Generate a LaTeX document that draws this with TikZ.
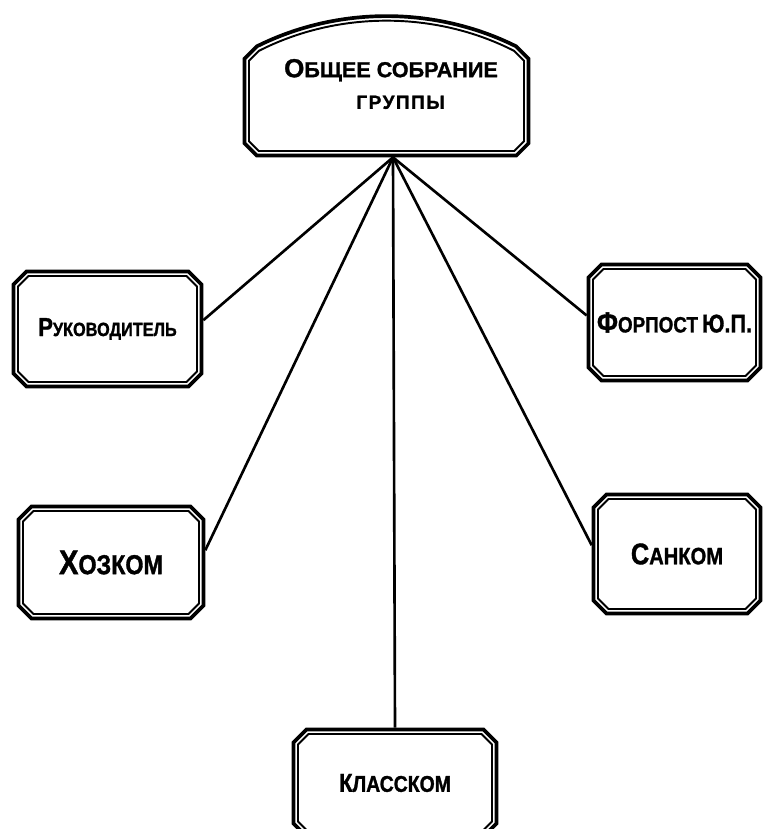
\documentclass[tikz,border=0pt]{standalone}
\usepackage{fontspec}
\setmainfont{Liberation Sans}
\newfontfamily\boxfont{Liberation Sans}[FakeStretch=0.85, FakeBold=1.2]
\newfontfamily\headfont{Liberation Sans}[FakeBold=1.2]
\newcommand\sized[2]{{\fontsize{#1}{#1}\selectfont #2}}
% octagonal rim inside a node: #1 node, #2 inset, #3 corner cut
\newcommand\chframe[3]{%
  ([shift={(#2+#3,-#2)}]#1.north west) -- ([shift={(-#2-#3,-#2)}]#1.north east)
  -- ([shift={(-#2,-#2-#3)}]#1.north east) -- ([shift={(-#2,#2+#3)}]#1.south east)
  -- ([shift={(-#2-#3,#2)}]#1.south east) -- ([shift={(#2+#3,#2)}]#1.south west)
  -- ([shift={(#2,#2+#3)}]#1.south west) -- ([shift={(#2,-#2-#3)}]#1.north west) -- cycle}
% same rim with an arched top: #4 rise of the arch
\newcommand\archframe[4]{%
  ([shift={(#2,-#2-#3)}]#1.north west) -- ([shift={(#2+#3,-#2)}]#1.north west)
  .. controls ([shift={(54pt,#4-#2)}]#1.north west) and ([shift={(-54pt,#4-#2)}]#1.north east)
  .. ([shift={(-#2-#3,-#2)}]#1.north east)
  -- ([shift={(-#2,-#2-#3)}]#1.north east) -- ([shift={(-#2,#2+#3)}]#1.south east)
  -- ([shift={(-#2-#3,#2)}]#1.south east) -- ([shift={(#2+#3,#2)}]#1.south west)
  -- ([shift={(#2,#2+#3)}]#1.south west) -- cycle}
\tikzset{
  plate/.style={rectangle, inner sep=0pt, font=\boxfont\bfseries},
  headtext/.style={inner sep=0pt, align=center, font=\headfont\bfseries},
  outerrim/.style={line width=2.1pt, line join=miter},
  innerrim/.style={line width=1.1pt, line join=miter},
  spoke/.style={line width=1.5pt}
}

\begin{document}
\begin{tikzpicture}[x=0.02cm, y=-0.02cm]
  \useasboundingbox (0,0) rectangle (764,829);
  \clip (0,0) rectangle (764,829);
  % boxes
  \node[plate, minimum width=5.74cm, minimum height=2.24cm] (sobr) at (386.5,101) {};
  \node[headtext] (sobrtext) at (391,84)
    {\sized{14.8}{О}\sized{12.3}{БЩЕЕ СОБРАНИЕ}\\[6pt]\hspace*{11pt}\sized{10.8}{\addfontfeature{LetterSpace=8}ГРУППЫ}};
  \node[plate, minimum width=3.82cm, minimum height=2.36cm] (ruk) at (107.5,329)
    {\sized{14.8}{Р}\sized{10.9}{УКОВОДИТЕЛЬ}};
  \node[plate, minimum width=3.5cm, minimum height=2.38cm] (forp) at (674.5,322.5)
    {\sized{16.5}{Ф}\sized{12.6}{ОРПОСТ} \sized{14.5}{Ю.П.}};
  \node[plate, minimum width=3.76cm, minimum height=2.3cm] (hoz) at (111,562.5)
    {\sized{19.5}{Х}\sized{15.6}{ОЗКОМ}};
  \node[plate, minimum width=3.4cm, minimum height=2.44cm] (san) at (677,554)
    {\sized{17}{С}\sized{13.5}{АНКОМ}};
  \node[plate, minimum width=4.12cm, minimum height=2.2cm] (klass) at (395,783)
    {\sized{14.8}{К}\sized{13}{ЛАССКОМ}};
  % rims
  \draw[outerrim] \archframe{sobr}{1pt}{7pt}{23pt};
  \draw[innerrim] \archframe{sobr}{3.6pt}{5.5pt}{23pt};
  \foreach \b in {ruk,forp,hoz,san,klass}{
    \draw[outerrim] \chframe{\b}{1pt}{7.5pt};
    \draw[innerrim] \chframe{\b}{3.6pt}{6pt};
  }
  % links
  \coordinate (hub) at ([xshift=3.7pt]sobr.south);
  \draw[spoke] (hub) -- ([yshift=5pt]ruk.east);
  \draw[spoke] (hub) -- ([yshift=7pt]hoz.east);
  \draw[spoke] (hub) -- (klass.north);
  \draw[spoke] (hub) -- ([yshift=5pt]san.west);
  \draw[spoke] (hub) -- ([yshift=4pt]forp.west);
\end{tikzpicture}
\end{document}
